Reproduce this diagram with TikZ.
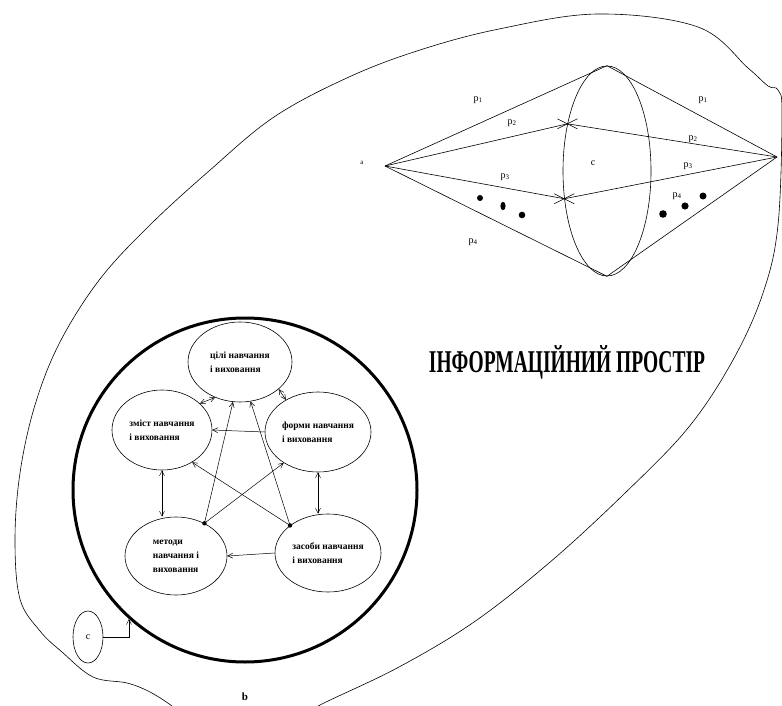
\documentclass[tikz,border=0pt]{standalone}
\usepackage{fontspec}
\usepackage{graphicx}
\setmainfont{Liberation Serif}
\usetikzlibrary{shapes.geometric,arrows.meta}
\begin{document}
\begin{tikzpicture}[x=1pt,y=-1pt,
  comp/.style={draw,ellipse,inner sep=0pt,line width=0.6pt,align=left,
    font=\fontsize{9.5}{14}\selectfont\bfseries},
  arr/.style={line width=0.5pt,-{Straight Barb[length=5pt,width=5pt]}},
  dbl/.style={line width=0.5pt,{Straight Barb[length=5pt,width=5pt]}-{Straight Barb[length=5pt,width=5pt]}},
  lbl/.style={font=\fontsize{10}{10}\selectfont, inner sep=0pt},
  thinline/.style={line width=0.6pt}
]
\useasboundingbox (0,0) rectangle (782,706);
\clip (0,0) rectangle (782,706);

% outer blob (information space)
\draw[thinline] plot[smooth, tension=0.6] coordinates {
 (180,714) (172,706) (150,692) (127,683) (93,677) (62,652) (40,631) (20,599) (15,540)
 (20,473) (35,405) (60,342) (100,279) (150,225) (209,171) (274,117) (349,77)
 (420,50) (499,29) (598,14) (698,27) (748,68) (768,86) (778,90) (782,113)
 (778,225) (763,293) (733,360) (688,428) (623,495) (549,563) (474,622)
 (399,667) (324,703) (305,714)};

% cone
\node[draw,ellipse,thinline,minimum width=88pt,minimum height=210pt,inner sep=0pt] (E) at (607,171) {};
\coordinate (A) at (385,166);
\coordinate (B) at (777,157);
\draw[thinline] (A) -- (E.north) -- (B);
\draw[thinline] (A) -- (E.south) -- (B);
\draw[thinline] (A) -- (E.130) -- (B);
\draw[thinline] (A) -- (E.-147) -- (B);
\foreach \p in {130,-147}{
  \draw[thinline] ([shift={(-10pt,-5pt)}]E.\p) -- ([shift={(10pt,5pt)}]E.\p);
  \draw[thinline] ([shift={(-10pt,5pt)}]E.\p) -- ([shift={(10pt,-5pt)}]E.\p);
}
\node[lbl,font=\fontsize{7}{7}\selectfont] (la) at (362,163) {a};
\node[lbl] (lc) at (593,163) {c};
\node[lbl] (p1l) at (478,100) {p\textsubscript{1}};
\node[lbl] (p2l) at (512,123) {p\textsubscript{2}};
\node[lbl] (p3l) at (505,177) {p\textsubscript{3}};
\node[lbl] (p4l) at (473,242) {p\textsubscript{4}};
\node[lbl] (p1r) at (703,100) {p\textsubscript{1}};
\node[lbl] (p2r) at (693,139) {p\textsubscript{2}};
\node[lbl] (p3r) at (688,166) {p\textsubscript{3}};
\node[lbl] (p4r) at (677,196) {p\textsubscript{4}};
\fill (480,198) circle (3pt);
\fill (503,206) ellipse (2.6pt and 4.2pt);
\fill (522,215) circle (3.3pt);
\fill (663,214) circle (3.8pt);
\fill (685,206) circle (3.6pt);
\fill (703,196) circle (3.5pt);

% title
\node (title) at (567,362) {\resizebox{276pt}{27pt}{\bfseries ІНФОРМАЦІЙНИЙ ПРОСТІР}};

% pedagogical system
\node[draw,circle,line width=3pt,minimum size=344pt,inner sep=0pt] (sys) at (245,490) {};
\node[comp,minimum width=104pt,minimum height=80pt] (T) at (240,362) {цілі навчання\\і виховання};
\node[comp,minimum width=100pt,minimum height=80pt] (L) at (162,430) {зміст навчання\\і виховання};
\node[comp,minimum width=106pt,minimum height=80pt] (R) at (318,432) {форми навчання\\і виховання};
\node[comp,minimum width=102pt,minimum height=78pt] (M) at (176,556) {методи\\навчання і\\виховання};
\node[comp,minimum width=106pt,minimum height=78pt] (Z) at (328,553) {засоби навчання\\і виховання};

\draw[arr] (M.49) -- (T.-100);
\draw[arr] (Z.144) -- (T.-75);
\draw[arr] (M.49) -- (R.-138);
\draw[arr] (Z.144) -- (L.-47);
\fill (M.49) circle (2.2pt);
\fill (Z.144) circle (2.2pt);
\draw[arr] (R.180) -- (L.0);
\draw[dbl] (L.south) -- (L.south |- M.north);
\draw[dbl] (R.south) -- (R.south |- Z.north);
\draw[arr] (Z.west) -- (M.east);
\draw[dbl] (L.35) -- (T.-125);
\draw[dbl] (R.135) -- (T.-35);

% small c and b
\node[draw,ellipse,thinline,minimum width=30pt,minimum height=52pt,inner sep=0pt,
  font=\fontsize{10}{10}\selectfont] (cc) at (88,637) {c};
\draw[arr] (cc.east) -| (sys.-132);
\node[lbl,font=\fontsize{11}{11}\selectfont\bfseries] (lb) at (245,697) {b};
\end{tikzpicture}
\end{document}
